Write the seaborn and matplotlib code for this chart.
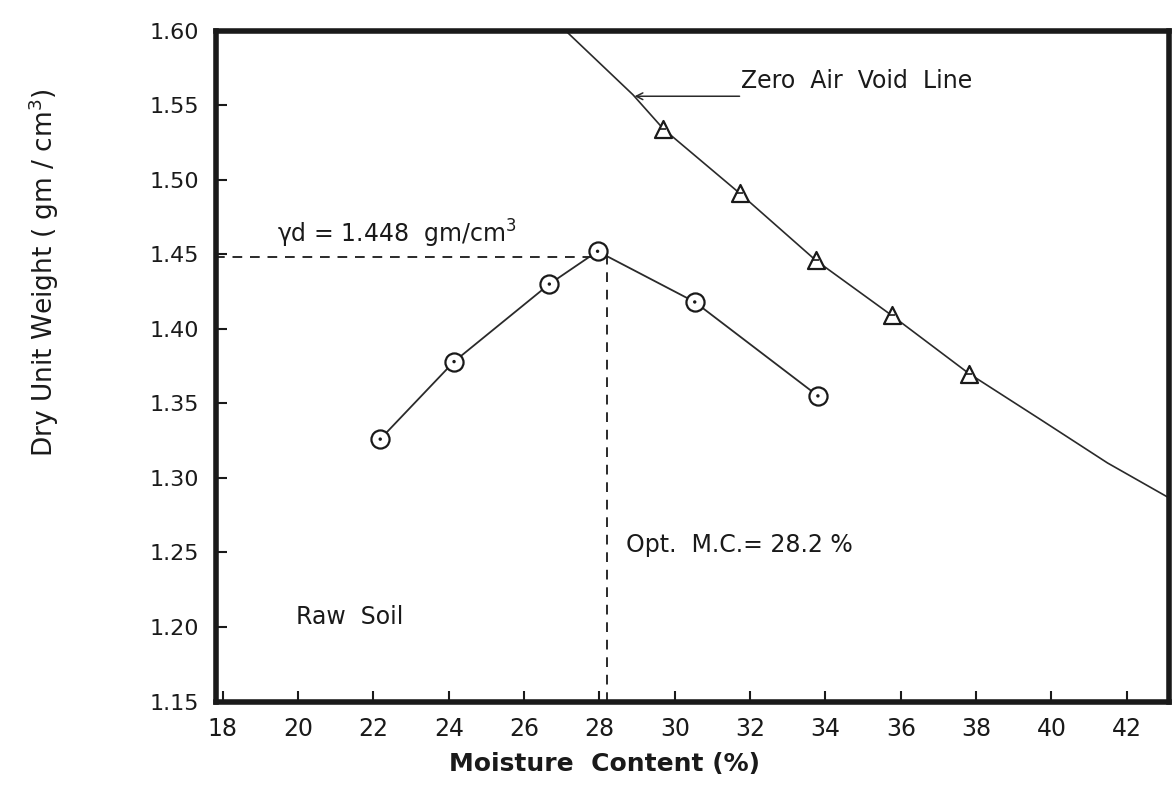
import matplotlib
matplotlib.use("Agg")
import matplotlib.pyplot as plt
import seaborn as sns
import pandas as pd

# ---- data ----
raw_mc = [22.18, 24.14, 26.67, 27.95, 30.53, 33.80]
raw_dry = [1.326, 1.378, 1.430, 1.452, 1.418, 1.355]

zav_mc = [29.70, 31.72, 33.74, 35.76, 37.81]
zav_dry = [1.534, 1.491, 1.446, 1.409, 1.370]

zav_line_mc = [27.10, 28.89, 29.70, 31.72, 33.74, 35.76, 37.81, 39.72, 41.49, 43.13]
zav_line_dry = [1.600, 1.557, 1.534, 1.491, 1.446, 1.409, 1.370, 1.339, 1.310, 1.2865]

opt_mc = 28.2
max_dry = 1.448

x_ticks = [18, 20, 22, 24, 26, 28, 30, 32, 34, 36, 38, 40, 42]
y_ticks = [1.15, 1.20, 1.25, 1.30, 1.35, 1.40, 1.45, 1.50, 1.55, 1.60]
y_tick_labels = ["1.15", "1.20", "1.25", "1.30", "1.35", "1.40", "1.45", "1.50", "1.55", "1.60"]

sns.set_theme(style="white")
plt.rcParams['font.family'] = ['DejaVu Sans']

fig = plt.figure(figsize=(11.74, 7.86), dpi=100)
ax = fig.add_axes([0.1840, 0.1075, 0.8120, 0.8535])

raw_df = pd.DataFrame({"mc": raw_mc, "dry": raw_dry})
zav_df = pd.DataFrame({"mc": zav_mc, "dry": zav_dry})
zline_df = pd.DataFrame({"mc": zav_line_mc, "dry": zav_line_dry})

ink = "#1a1a1a"

# zero air void curve
sns.lineplot(data=zline_df, x="mc", y="dry", ax=ax, color="#2a2a2a", lw=1.2,
             sort=False, estimator=None)
sns.scatterplot(data=zav_df, x="mc", y="dry", ax=ax, marker="^", s=150,
                facecolor="white", edgecolor=ink, linewidth=1.6, zorder=4)
sns.scatterplot(data=zav_df, x="mc", y="dry", ax=ax, marker="_", s=25,
                color=ink, linewidth=1.2, zorder=5)

# compaction curve
sns.lineplot(data=raw_df, x="mc", y="dry", ax=ax, color="#2a2a2a", lw=1.3,
             sort=False, estimator=None)
sns.scatterplot(data=raw_df, x="mc", y="dry", ax=ax, marker="o", s=170,
                facecolor="white", edgecolor=ink, linewidth=1.6, zorder=4)
sns.scatterplot(data=raw_df, x="mc", y="dry", ax=ax, marker="o", s=6,
                color=ink, edgecolor="none", zorder=5)

# dashed guide lines
ax.plot([17.8, raw_mc[3]], [max_dry, max_dry], ls=(0, (5, 4)), color="#2a2a2a", lw=1.4)
ax.plot([opt_mc, opt_mc], [1.15, raw_dry[3]], ls=(0, (5, 4)), color="#2a2a2a", lw=1.4)

ax.set_xlim(17.82, 43.13)
ax.set_ylim(1.15, 1.60)
ax.set_xticks(x_ticks)
ax.set_yticks(y_ticks)
ax.set_yticklabels(y_tick_labels)
ax.tick_params(axis="both", direction="in", length=8, width=1.5, color=ink,
               labelcolor=ink)
ax.tick_params(axis="x", labelsize=17, pad=11)
ax.tick_params(axis="y", labelsize=16, pad=12)
ax.tick_params(bottom=True, left=True)

for s in ax.spines.values():
    s.set_linewidth(4.0)
    s.set_color(ink)

ax.set_xlabel("Moisture  Content (%)", fontsize=18, fontweight="bold", color=ink)
ax.xaxis.set_label_coords(0.408, -0.075)
ax.set_ylabel("Dry Unit Weight ( gm / cm$^3$)", fontsize=19, color=ink)
ax.yaxis.set_label_coords(-0.163, 0.64)

# annotations
ax.text(19.45, 1.453, "\u03b3d = 1.448  gm/cm$^3$", fontsize=17, color=ink,
        ha="left", va="bottom")
ax.text(28.7, 1.255, "Opt.  M.C.= 28.2 %", fontsize=17, color=ink,
        ha="left", va="center")
ax.text(19.95, 1.207, "Raw  Soil", fontsize=17, color=ink, ha="left", va="center")
ax.annotate("", xy=(28.93, 1.556), xytext=(31.72, 1.556),
            arrowprops=dict(arrowstyle="->", color="#2a2a2a", lw=1.1,
                            shrinkA=0, shrinkB=0))
ax.text(31.75, 1.5585, "Zero  Air  Void  Line", fontsize=17, color=ink,
        ha="left", va="bottom")

ax.set_facecolor("white")
fig.patch.set_facecolor("white")
fig.savefig("out.png", dpi=100, facecolor="white")
